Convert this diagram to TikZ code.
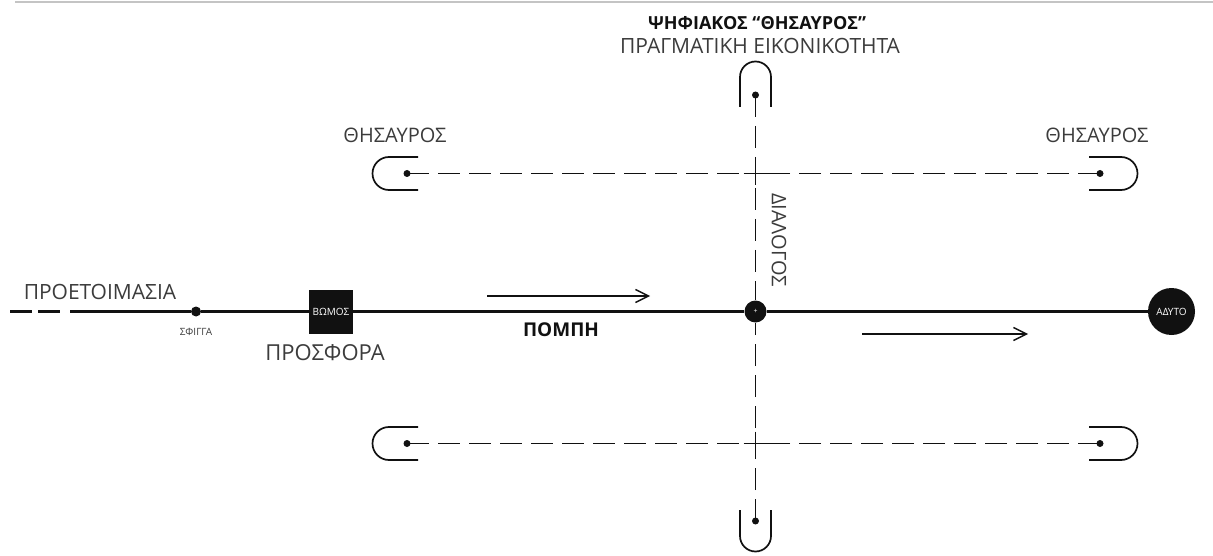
\documentclass[tikz,border=0pt]{standalone}
\usepackage{fontspec}
\setmainfont{Open Sans}
\usepackage{tikz}
\usetikzlibrary{positioning, arrows.meta}
\definecolor{ink}{HTML}{111111}
\definecolor{txt}{HTML}{3C3C3C}
\definecolor{rule}{HTML}{C4C4C4}

\begin{document}
\begin{tikzpicture}[
  x=1pt, y=-1pt,
  every node/.style={font=\fontsize{19}{21}\selectfont, text=txt},
  big/.style={font=\fontsize{21}{23}\selectfont},
  tiny/.style={font=\fontsize{10}{11}\selectfont},
  strong/.style={font=\bfseries\fontsize{19}{21}\selectfont, text=ink},
  route/.style={ink, line width=3pt},
  axis/.style={ink, line width=1.7pt, dash pattern=on 22pt off 9pt},
  capline/.style={ink, line width=1.7pt},
  dot/.style={circle, fill=ink, inner sep=0pt, minimum size=7pt},
  flow/.style={-{Straight Barb[length=13pt, width=13pt]}, ink, line width=1.4pt}
]
  \useasboundingbox (0,0) rectangle (1213,556);
  \draw[rule, line width=2.5pt] (15,2) -- (1213,2);

  % main route
  \coordinate (fadeL) at (10,311.5);
  \coordinate (fadeR) at (62,311.5);
  \coordinate (solidL) at (70,311.5);
  \node[dot, minimum size=10pt] (sfigga) at (196,311.5) {};
  \node[fill=ink, minimum size=44pt, inner sep=0pt, tiny, text=white] (bomos) at (331,311.5) {ΒΩΜΟΣ};
  \node[circle, fill=ink, minimum size=22pt, inner sep=0pt, text=white, font=\fontsize{7}{7}\selectfont] (hub) at (755.5,311.5) {+};
  \node[circle, fill=ink, minimum size=47pt, inner sep=0pt, tiny, text=white] (adyto) at (1171.5,311.5) {ΑΔΥΤΟ};

  \draw[route, dash pattern=on 22pt off 6pt] (fadeL) -- (fadeR);
  \draw[route] (solidL) -- (sfigga) -- (bomos) -- (hub) -- (adyto);

  \node[big] (prep) at (100,292) {ΠΡΟΕΤΟΙΜΑΣΙΑ};
  \node[tiny] (sfiggalbl) at (196,332) {ΣΦΙΓΓΑ};
  \node[big, font=\fontsize{22}{24}\selectfont, below=7.5pt of bomos, xshift=-6pt] (offer) {ΠΡΟΣΦΟΡΑ};
  \node[strong] (pompi) at (561,330) {ΠΟΜΠΗ};

  \coordinate (in1) at (487,296);
  \coordinate (out1) at (650,296);
  \coordinate (in2) at (862,334);
  \coordinate (out2) at (1028,334);
  \draw[flow] (in1) -- (out1);
  \draw[flow] (in2) -- (out2);

  % dialogue axis
  \node[dot] (topend) at (755.5,95) {};
  \node[dot] (botend) at (755.5,521) {};
  \draw[axis] (topend.center) -- (hub);
  \draw[axis] (botend.center) -- (hub);
  \draw[capline] (topend) ++(-15.5,12) -- ++(0,-30) arc[start angle=180, end angle=360, radius=15.5] -- ++(0,30);
  \draw[capline] (botend) ++(-15.5,-11) -- ++(0,26) arc[start angle=180, end angle=0, radius=15.5] -- ++(0,-26);
  \node[rotate=-90, font=\fontsize{20}{22}\selectfont] (dialog) at (779,240) {ΔΙΑΛΟΓΟΣ};

  % treasuries
  \node[dot] (upW) at (407,173.5) {};
  \node[dot] (upE) at (1100,173.5) {};
  \node[dot] (lowW) at (407,443.5) {};
  \node[dot] (lowE) at (1100,443.5) {};
  \coordinate (upX) at (755.5,173.5);
  \coordinate (lowX) at (755.5,443.5);
  \draw[axis] (upW.center) -- (upX);
  \draw[axis] (upE.center) -- (upX);
  \draw[axis] (lowW.center) -- (lowX);
  \draw[axis] (lowE.center) -- (lowX);
  \draw[capline] (upX) ++(-12,0) -- ++(24,0) (upX) ++(0,-12) -- ++(0,24);
  \draw[capline] (lowX) ++(-12,0) -- ++(24,0) (lowX) ++(0,-12) -- ++(0,24);
  \foreach \t in {upW, lowW}
    \draw[capline] (\t) ++(11,-16.5) -- ++(-29,0) arc[start angle=270, end angle=90, radius=16.5] -- ++(29,0);
  \foreach \t in {upE, lowE}
    \draw[capline] (\t) ++(-11,-16.5) -- ++(32,0) arc[start angle=-90, end angle=90, radius=16.5] -- ++(-32,0);

  \node[font=\fontsize{20}{22}\selectfont] (treasW) at (395,135) {ΘΗΣΑΥΡΟΣ};
  \node[font=\fontsize{20}{22}\selectfont] (treasE) at (1097,135) {ΘΗΣΑΥΡΟΣ};
  \node[strong, font=\bfseries\fontsize{18}{20}\selectfont] (digital) at (757,23) {ΨΗΦΙΑΚΟΣ “ΘΗΣΑΥΡΟΣ”};
  \node[font=\fontsize{21}{23}\selectfont] (virtual) at (760,46) {ΠΡΑΓΜΑΤΙΚΗ ΕΙΚΟΝΙΚΟΤΗΤΑ};
\end{tikzpicture}
\end{document}
